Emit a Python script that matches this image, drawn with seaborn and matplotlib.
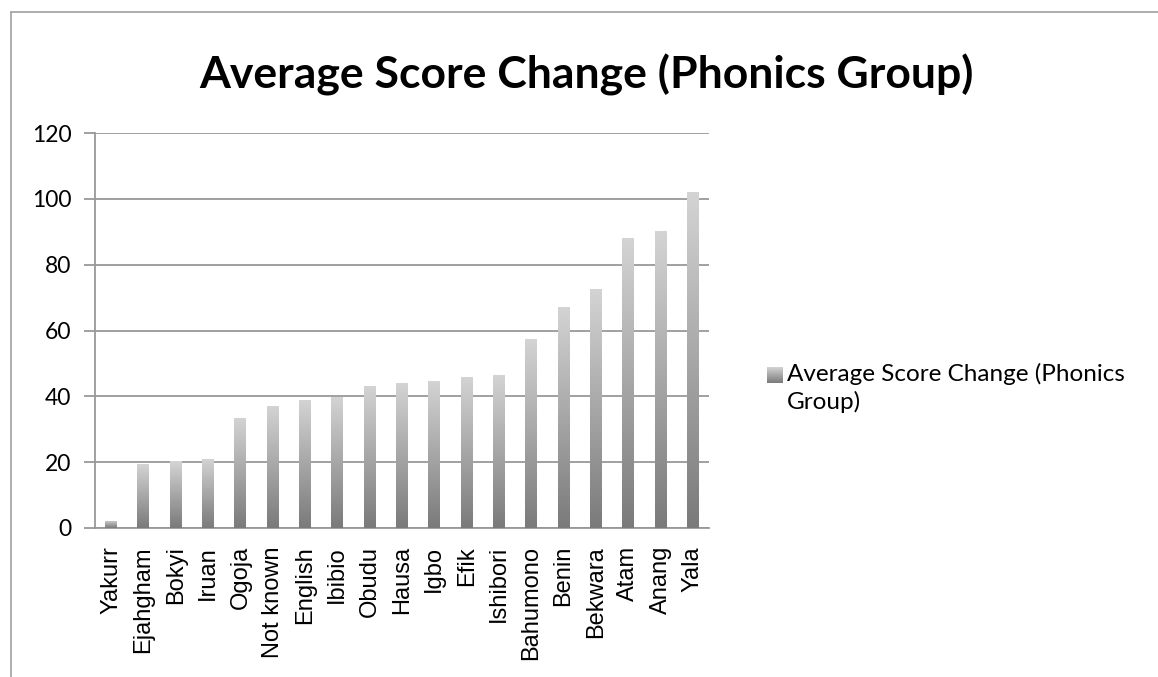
import numpy as np
import pandas as pd
import matplotlib
matplotlib.use("Agg")
import matplotlib.pyplot as plt
from matplotlib.lines import Line2D
from matplotlib.colors import LinearSegmentedColormap
import seaborn as sns

# values
groups = ["Yakurr", "Ejahgham", "Bokyi", "Iruan", "Ogoja", "Not known", "English",
          "Ibibio", "Obudu", "Hausa", "Igbo", "Efik", "Ishibori", "Bahumono",
          "Benin", "Bekwara", "Atam", "Anang", "Yala"]
score_change = [2.2, 19.3, 20.3, 21.1, 33.5, 37.2, 39.0, 39.9, 43.2, 44.1, 44.7,
                46.0, 46.6, 57.5, 67.2, 72.6, 88.1, 90.2, 102.0]
y_ticks = [0, 20, 40, 60, 80, 100, 120]

series_name = "Average Score Change (Phonics Group)"
grid_col = "#989898"
text_font = ["Lato", "DejaVu Sans"]

sns.set_style("white")
plt.rcParams["font.family"] = text_font
plt.rcParams["text.color"] = "black"
plt.rcParams["xtick.labelcolor"] = "black"
plt.rcParams["ytick.labelcolor"] = "black"

df = pd.DataFrame({"group": groups, "score": score_change})

fig = plt.figure(figsize=(11.58, 6.77), dpi=100)
ax = fig.add_axes([95 / 1158, 1 - 528 / 677, (709 - 95) / 1158, (528 - 133) / 677])

sns.barplot(data=df, x="group", y="score", color="#a0a0a0", width=0.37, ax=ax, zorder=3)

# vertical grey gradient inside every bar (light top, dark bottom)
grad = LinearSegmentedColormap.from_list("g", ["#7a7a7a", "#d4d4d4"])
ramp = np.linspace(0, 1, 256).reshape(-1, 1)
for p in ax.patches:
    x0, w, h = p.get_x(), p.get_width(), p.get_height()
    im = ax.imshow(ramp, cmap=grad, aspect="auto", origin="lower",
                   extent=(x0, x0 + w, 0, h), zorder=3)
    im.set_clip_path(p)
    p.set_facecolor("none")
    p.set_edgecolor("none")

ax.set_xlim(-0.5, len(groups) - 0.5)
ax.set_ylim(0, 120)
ax.set_yticks(y_ticks)
ax.set_yticklabels([str(v) for v in y_ticks], fontsize=16.5, family=text_font)
ax.yaxis.grid(True, color=grid_col, linewidth=1.3, zorder=0)
ax.set_axisbelow(True)

ax.set_xticks(range(len(groups)))
ax.set_xticklabels(groups, rotation=90, fontsize=17,
                   family=["Liberation Sans", "DejaVu Sans"])
ax.set_xticks(np.arange(-0.5, len(groups)), minor=True)
ax.tick_params(axis="x", which="major", length=0, pad=13)
ax.tick_params(axis="x", which="minor", length=8, width=1.3, color=grid_col)
ax.tick_params(axis="y", which="major", length=8, width=1.3, color=grid_col, pad=9,
               left=True)
ax.set_xlabel("")
ax.set_ylabel("")

for side in ["top", "right"]:
    ax.spines[side].set_visible(False)
for side in ["left", "bottom"]:
    ax.spines[side].set_color(grid_col)
    ax.spines[side].set_linewidth(1.3)

fig.text(0.506, 1 - 75 / 677, series_name, ha="center", va="center",
         fontsize=32, fontweight="bold", family=text_font)

# legend: gradient swatch plus wrapped label
lax = fig.add_axes([767 / 1158, 1 - 383 / 677, 16 / 1158, 16 / 677])
lax.imshow(ramp, cmap=grad, aspect="auto", origin="lower")
lax.set_axis_off()
fig.text(787 / 1158, 1 - 363 / 677, "Average Score Change (Phonics\nGroup)",
         ha="left", va="top", fontsize=17.5, family=text_font, linespacing=1.3)

# chart border (only top and left show inside the crop)
fig.add_artist(Line2D([11 / 1158, 11 / 1158], [0, 1 - 12 / 677],
                      transform=fig.transFigure, color="#a0a0a0", linewidth=1.2))
fig.add_artist(Line2D([11 / 1158, 1], [1 - 12 / 677, 1 - 12 / 677],
                      transform=fig.transFigure, color="#a0a0a0", linewidth=1.2))

fig.savefig("out.png", dpi=100)
